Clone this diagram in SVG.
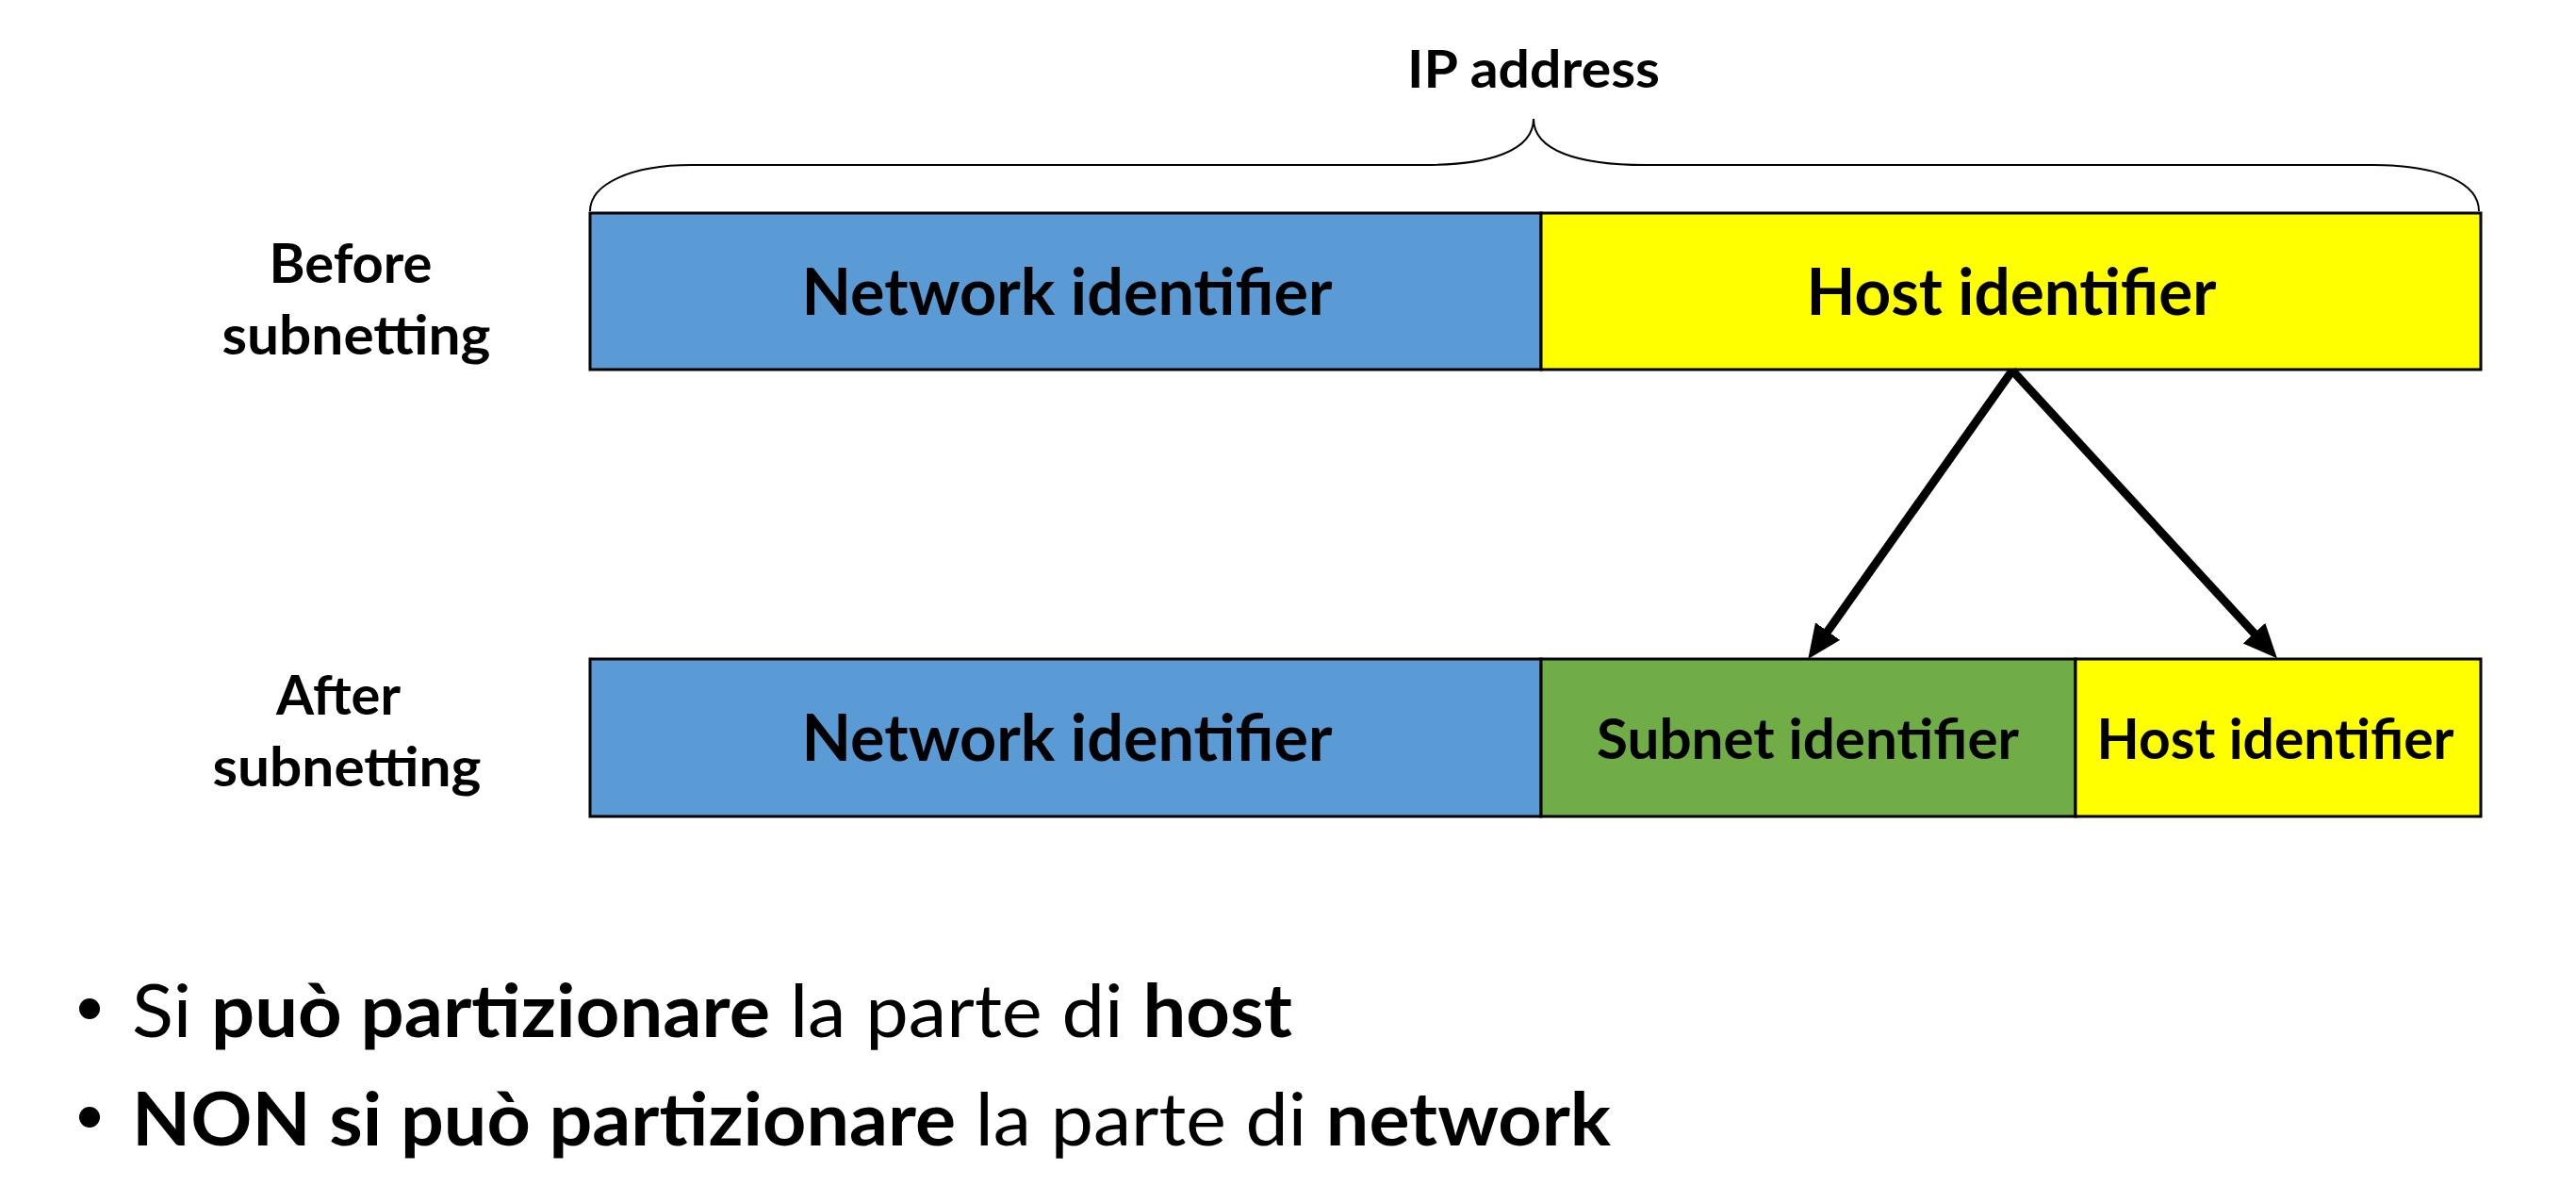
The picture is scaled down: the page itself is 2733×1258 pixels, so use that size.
<svg xmlns="http://www.w3.org/2000/svg" width="2733" height="1258" viewBox="0 0 2733 1258">
<style>
.t{font-family:Lato,"Liberation Sans",sans-serif;font-weight:bold;fill:#000;text-anchor:middle}
.box{stroke:#000;stroke-width:3}
.blue{fill:#5B9BD5}.yel{fill:#FFFF00}.grn{fill:#70AD47}
.b{font-family:Lato,"Liberation Sans",sans-serif;font-size:78px;fill:#000}
.bd{font-weight:bold}
</style>
<defs>
<marker id="ah" markerUnits="userSpaceOnUse" markerWidth="44" markerHeight="44" refX="14" refY="16" orient="auto"><path d="M0,0 L36,16 L0,32 z" fill="#000"/></marker>
</defs>
<rect width="2733" height="1258" fill="#fff"/>
<g id="brace">
<path d="M626,224 C626,195 670,175 733,175 L1512,175 C1580,175 1627,160 1627,126 C1627,160 1675,175 1745,175 L2518,175 C2590,175 2630,195 2630,224" fill="none" stroke="#000" stroke-width="2"/>
<text class="t" x="1627" y="93" font-size="56" textLength="268" lengthAdjust="spacingAndGlyphs">IP address</text>
</g>
<g id="label-before">
<text class="t" x="372" y="300" font-size="58" textLength="173" lengthAdjust="spacingAndGlyphs">Before</text>
<text class="t" x="378" y="376" font-size="58" textLength="285" lengthAdjust="spacingAndGlyphs">subnetting</text>
</g>
<g id="label-after">
<text class="t" x="359" y="758" font-size="58" textLength="132" lengthAdjust="spacingAndGlyphs">After</text>
<text class="t" x="368" y="834" font-size="58" textLength="285" lengthAdjust="spacingAndGlyphs">subnetting</text>
</g>
<g id="top-network">
<rect class="box blue" x="626" y="226" width="1009" height="166"/>
<text class="t" x="1132" y="334" font-size="68" textLength="563" lengthAdjust="spacingAndGlyphs">Network identifier</text>
</g>
<g id="top-host">
<rect class="box yel" x="1635" y="226" width="997" height="166"/>
<text class="t" x="2134" y="334" font-size="68" textLength="435" lengthAdjust="spacingAndGlyphs">Host identifier</text>
</g>
<g id="bottom-network">
<rect class="box blue" x="626" y="699" width="1009" height="167"/>
<text class="t" x="1132" y="807" font-size="68" textLength="563" lengthAdjust="spacingAndGlyphs">Network identifier</text>
</g>
<g id="bottom-subnet">
<rect class="box grn" x="1635" y="699" width="567" height="167"/>
<text class="t" x="1918" y="805" font-size="60" textLength="448" lengthAdjust="spacingAndGlyphs">Subnet identifier</text>
</g>
<g id="bottom-host">
<rect class="box yel" x="2202" y="699" width="430" height="167"/>
<text class="t" x="2414" y="805" font-size="60" textLength="379" lengthAdjust="spacingAndGlyphs">Host identifier</text>
</g>
<g id="connectors" stroke="#000" stroke-width="9" fill="none">
<line x1="2135" y1="393" x2="1931" y2="681" marker-end="url(#ah)"/>
<line x1="2135" y1="393" x2="2401" y2="682" marker-end="url(#ah)"/>
</g>
<g id="bullets">
<circle cx="95" cy="1070" r="11" fill="#000"/>
<text class="b" x="140" y="1100" textLength="1231" lengthAdjust="spacingAndGlyphs">Si <tspan class="bd">può partizionare</tspan> la parte di <tspan class="bd">host</tspan></text>
<circle cx="95" cy="1185" r="11" fill="#000"/>
<text class="b" x="140" y="1215" textLength="1569" lengthAdjust="spacingAndGlyphs"><tspan class="bd">NON si può partizionare</tspan> la parte di <tspan class="bd">network</tspan></text>
</g>
</svg>
